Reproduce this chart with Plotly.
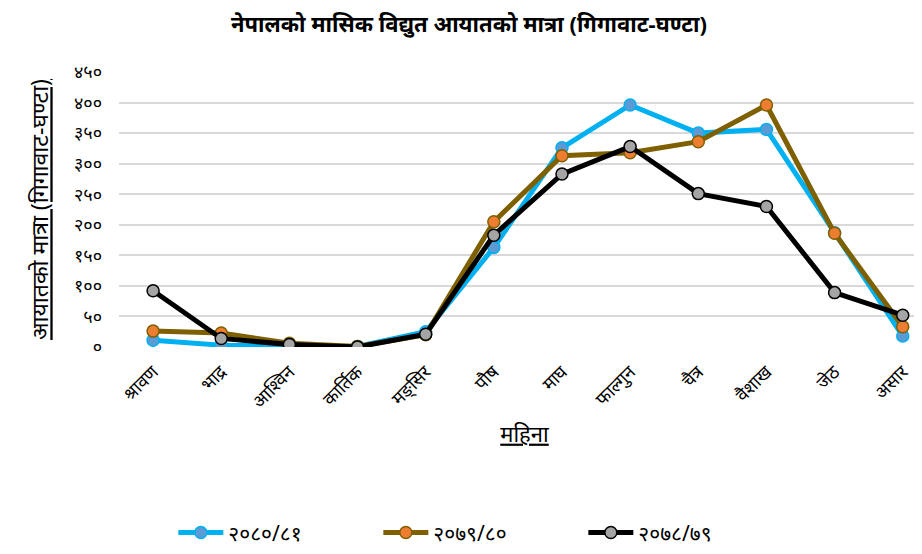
import plotly.graph_objects as go

months = ["श्रावण", "भाद्र", "आश्विन", "कार्तिक", "मङ्सिर", "पौष", "माघ",
          "फाल्गुन", "चैत्र", "वैशाख", "जेठ", "असार"]
s_2080_81 = [11, 3, 2, 1, 25, 163, 326, 396, 350, 356, 187, 18]
s_2079_80 = [26, 23, 6, 1, 20, 205, 313, 318, 336, 396, 186, 33]
s_2078_79 = [92, 14, 4, 0, 21, 183, 283, 328, 251, 230, 89, 52]
series_names = ["२०८०/८१", "२०७९/८०", "२०७८/७९"]
tick_vals = [0, 50, 100, 150, 200, 250, 300, 350, 400, 450]
tick_text = ["०", "५०", "१००", "१५०", "२००", "२५०", "३००", "३५०", "४००", "४५०"]

FONT = "Noto Sans, Lato, sans-serif"

fig = go.Figure()
styles = [
    (s_2080_81, "#00B0F0", "#5B9BD5"),
    (s_2079_80, "#7F6000", "#ED7D31"),
    (s_2078_79, "#000000", "#A5A5A5"),
]
for (vals, lc, mc), name in zip(styles, series_names):
    fig.add_trace(go.Scatter(
        x=months, y=vals, name=name, mode="lines+markers",
        line=dict(color=lc, width=5),
        marker=dict(size=12, color=mc, line=dict(color=lc, width=1.5)),
    ))

fig.update_layout(
    width=922, height=554,
    paper_bgcolor="white", plot_bgcolor="white",
    margin=dict(l=111, r=0, t=64, b=215),
    font=dict(family=FONT, color="#000000", size=15),
    title=dict(text="<b>नेपालको मासिक विद्युत आयातको मात्रा (गिगावाट-घण्टा)</b>",
               x=0.5, xanchor="center", y=0.985, yanchor="top",
               font=dict(size=22, color="#000000")),
    showlegend=True,
    legend=dict(orientation="h", x=0.067, xanchor="left", y=-0.676, yanchor="middle",
                font=dict(size=21), itemwidth=45, entrywidth=145, entrywidthmode="pixels",
                traceorder="normal"),
    xaxis=dict(
        type="category", range=[-0.5, 11.4], showgrid=False, showline=False,
        ticks="", tickangle=-45, tickfont=dict(size=18), ticklabelstandoff=10,
        title=dict(text="<u>महिना</u>", font=dict(size=22), standoff=14),
    ),
    yaxis=dict(
        range=[0, 450], tickvals=tick_vals, ticktext=tick_text,
        showgrid=True, gridcolor="#D9D9D9", gridwidth=2, zeroline=False,
        showline=False, ticks="", tickfont=dict(size=18), ticklabelstandoff=16,
        title=dict(text="<u>आयातको मात्रा (गिगावाट-घण्टा)</u>", font=dict(size=23), standoff=18),
    ),
)

fig.write_html("out.html")
